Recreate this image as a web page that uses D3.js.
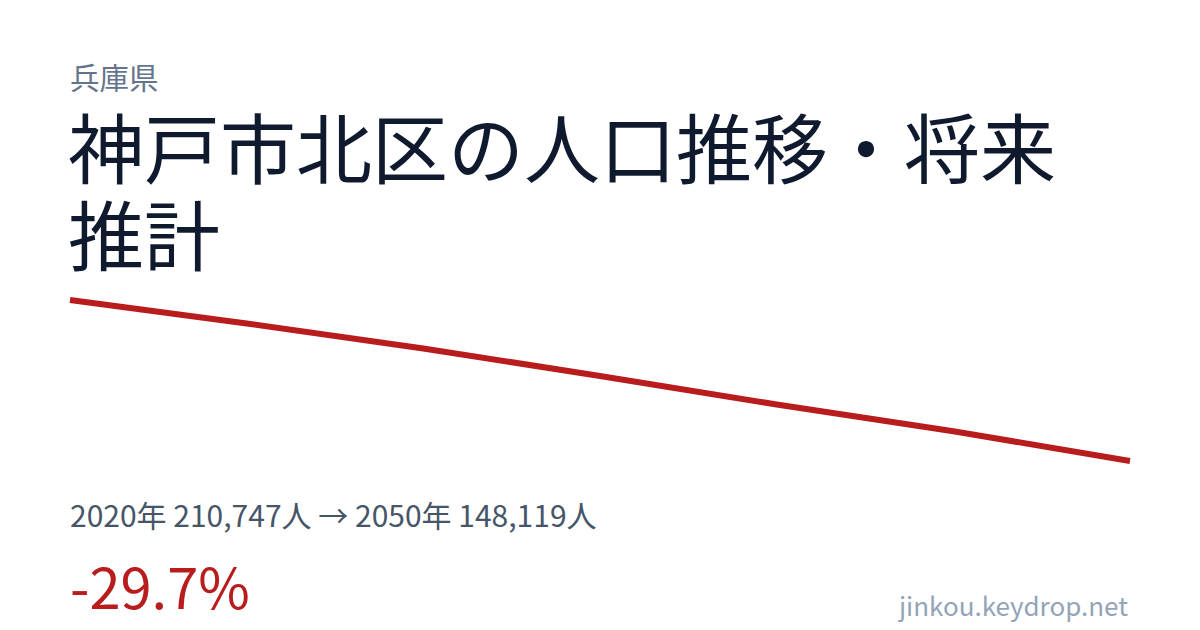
<!DOCTYPE html>
<html lang="ja">
<head>
<meta charset="UTF-8">
<title>神戸市北区の人口推移・将来推計</title>
<script src="https://d3js.org/d3.v7.min.js"></script>
<style>
  html, body { margin: 0; padding: 0; background: #fff; }
  text { font-family: "Noto Sans CJK JP", "Noto Sans", sans-serif; }
</style>
</head>
<body>
<svg id="card" width="1200" height="630"></svg>
<script>
  // 人口データ（2020年実績・以降は推計）
  const years = [2020, 2025, 2030, 2035, 2040, 2045, 2050];
  const population = [210747, 201600, 191900, 181200, 170100, 159700, 148119];

  const prefecture = "兵庫県";
  const title = "神戸市北区の人口推移・将来推計";
  const site = "jinkou.keydrop.net";

  const svg = d3.select("#card");
  const width = +svg.attr("width");

  svg.append("rect").attr("width", width).attr("height", 630).attr("fill", "#fff");

  // 県名
  svg.append("text")
    .attr("x", 70).attr("y", 89)
    .attr("font-size", 29.5)
    .attr("fill", "#64748b")
    .text(prefecture);

  // タイトル（折り返し）
  const titleLines = [title.slice(0, 13), title.slice(13)];
  svg.append("text")
    .attr("font-size", 76)
    .attr("fill", "#0f1a2e")
    .selectAll("tspan")
    .data(titleLines)
    .join("tspan")
    .attr("x", 68)
    .attr("y", (d, i) => 178 + i * 87)
    .text(d => d);

  // 折れ線
  const x = d3.scaleLinear()
    .domain(d3.extent(years))
    .range([70, 1130]);
  const y = d3.scaleLinear()
    .domain(d3.extent(population))
    .range([461, 300]);

  const line = d3.line()
    .x((d, i) => x(years[i]))
    .y(d => y(d));

  svg.append("path")
    .datum(population)
    .attr("d", line)
    .attr("fill", "none")
    .attr("stroke", "#b91c1c")
    .attr("stroke-width", 6)
    .attr("stroke-linejoin", "round");

  const fmt = d3.format(",");
  const first = population[0], last = population[population.length - 1];
  const change = (last - first) / first * 100;

  svg.append("text")
    .attr("x", 70).attr("y", 527)
    .attr("font-size", 30)
    .attr("fill", "#475569")
    .text(`${years[0]}年 ${fmt(first)}人 → ${years[years.length - 1]}年 ${fmt(last)}人`);

  svg.append("text")
    .attr("x", 70).attr("y", 609)
    .attr("font-size", 56)
    .attr("fill", "#b91c1c")
    .text(`${change.toFixed(1)}%`);

  svg.append("text")
    .attr("x", 1128).attr("y", 616)
    .attr("text-anchor", "end")
    .attr("font-size", 26)
    .attr("fill", "#94a3b8")
    .text(site);
</script>
</body>
</html>
